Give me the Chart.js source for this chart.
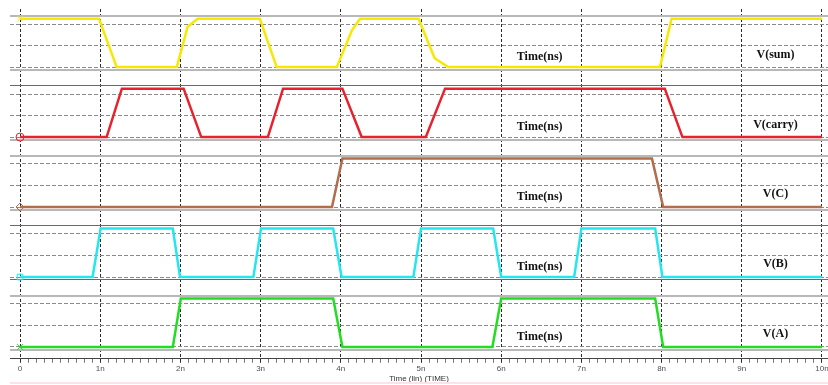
<!DOCTYPE html>
<html>
<head>
<meta charset="utf-8">
<script src="https://cdn.jsdelivr.net/npm/chart.js@4/dist/chart.umd.min.js"></script>
<style>
    body { margin: 0; background: #fff; }
    .wrap { position: relative; width: 828px; height: 385px; }
    .pinkline { position: absolute; left: 10px; top: 382px; width: 818px; height: 2px; background: #fbe3e8; }
</style>
</head>
<body>
<div class="wrap">
    <canvas id="wave" width="828" height="385"></canvas>
    <div class="pinkline"></div>
</div>
<script>
// waveform data, time in ns, level in V
const sumT   = [0, 0.985, 1.205, 1.955, 2.09, 2.215, 2.99, 3.2, 3.95, 4.14, 4.24, 4.97, 5.17, 5.34, 7.98, 8.125, 10.0];
const sumV   = [1.8, 1.8, 0, 0, 1.5, 1.8, 1.8, 0, 0, 1.38, 1.8, 1.8, 0.33, 0, 0, 1.8, 1.8];
const carryT = [0, 1.08, 1.27, 2.04, 2.26, 3.09, 3.28, 4.02, 4.26, 5.06, 5.3, 8.04, 8.26, 10.0];
const carryV = [0, 0, 1.8, 1.8, 0, 0, 1.8, 1.8, 0, 0, 1.8, 1.8, 0, 0];
const cT     = [0, 3.89, 4.02, 7.88, 8.02, 10.0];
const cV     = [0, 0, 1.8, 1.8, 0, 0];
const bT     = [0, 0.905, 1.005, 1.905, 1.995, 2.91, 3.005, 3.905, 4.01, 4.905, 5.0, 5.9, 6.0, 6.91, 7.0, 7.92, 8.01, 10.0];
const bV     = [0, 0, 1.8, 1.8, 0, 0, 1.8, 1.8, 0, 0, 1.8, 1.8, 0, 0, 1.8, 1.8, 0, 0];
const aT     = [0, 1.905, 2.005, 3.905, 4.02, 5.89, 6.0, 7.92, 8.02, 10.0];
const aV     = [0, 0, 1.8, 1.8, 0, 0, 1.8, 1.8, 0, 0];

const panelNames  = ['V(sum)', 'V(carry)', 'V(C)', 'V(B)', 'V(A)'];
const panelColors = ['#f7e800', '#e8222c', '#b26d4c', '#24e6ef', '#22dd22'];
const panelMarks  = ['crossRot', 'circle', 'rectRot', 'rect', 'crossRot'];
const xTickMajor  = [0, 1, 2, 3, 4, 5, 6, 7, 8, 9, 10];
const gridLevels  = [-0.1, 0, 0.8, 1.6, 1.9];
const edgeLevels  = [-0.1, 1.9];
// top / bottom edge line shade of every panel
const edgeShade   = [['light', 'light'], ['dark', 'light'], ['light', 'light'], ['dark', 'dark'], ['light', 'light']];

function zip(ts, vs) {
    return ts.map((t, i) => ({ x: t, y: vs[i] }));
}

function panelAxis(i) {
    const shade = level => level > 1 ? edgeShade[i][0] : edgeShade[i][1];
    return {
        type: 'linear',
        position: 'left',
        stack: 'wave',
        stackWeight: 1,
        min: -0.44,
        max: 2.16,
        afterBuildTicks: scale => { scale.ticks = gridLevels.map(v => ({ value: v })); },
        ticks: { display: false },
        border: {
            display: false,
            dash: ctx => (ctx.tick && !edgeLevels.includes(ctx.tick.value)) ? [4, 2] : []
        },
        grid: {
            drawTicks: false,
            color: ctx => {
                if (!ctx.tick || !edgeLevels.includes(ctx.tick.value)) return '#8a8a8a';
                return shade(ctx.tick.value) === 'dark' ? '#6a6a6a' : '#b8b8b8';
            },
            lineWidth: ctx => {
                if (!ctx.tick || !edgeLevels.includes(ctx.tick.value)) return 1;
                return shade(ctx.tick.value) === 'dark' ? 1 : 2;
            }
        }
    };
}

const isMajor = v => Math.abs(v - Math.round(v)) < 1e-6;

const panelText = {
    id: 'panelText',
    afterDatasetsDraw(chart) {
        const ctx = chart.ctx;
        const xs = chart.scales.x;
        ctx.save();
        ctx.fillStyle = '#111';
        ctx.font = 'bold 12px "Liberation Serif", serif';
        ctx.textAlign = 'center';
        ctx.textBaseline = 'middle';
        panelNames.forEach((name, i) => {
            const ys = chart.scales['y' + i];
            ctx.fillText('Time(ns)', xs.getPixelForValue(6.48), ys.getPixelForValue(0.37));
            ctx.fillText(name, xs.getPixelForValue(9.42), ys.getPixelForValue(0.47));
        });
        ctx.restore();
    }
};

function initChart() {
    const series = [zip(sumT, sumV), zip(carryT, carryV), zip(cT, cV), zip(bT, bV), zip(aT, aV)];
    const scales = {
        x: {
            type: 'linear',
            min: -0.125,
            max: 10.075,
            afterBuildTicks: scale => {
                const ticks = [];
                for (let k = 0; k <= 100; k++) ticks.push({ value: k / 10 });
                scale.ticks = ticks;
            },
            // keep the end labels from shrinking the plot area
            afterFit: scale => { scale.paddingLeft = 0; scale.paddingRight = 0; },
            ticks: {
                autoSkip: false,
                maxRotation: 0,
                padding: 1,
                color: '#4d4d5c',
                font: { family: '"Liberation Sans", Arial, sans-serif', size: 8 },
                callback: v => {
                    if (!isMajor(v)) return '';
                    const n = Math.round(v);
                    return xTickMajor.includes(n) ? (n === 0 ? '0' : n + 'n') : '';
                }
            },
            border: { display: true, color: '#444', width: 1, dash: ctx => (ctx.tick ? [3, 2] : []) },
            grid: {
                tickLength: 4,
                color: ctx => (ctx.tick && isMajor(ctx.tick.value)) ? '#2a2a2a' : 'rgba(0,0,0,0)',
                tickColor: ctx => (ctx.tick && isMajor(ctx.tick.value)) ? '#2a2a2a' : '#777',
                lineWidth: 1
            },
            title: {
                display: true,
                text: 'Time (lin) (TIME)',
                color: '#333',
                padding: 0,
                font: { family: '"Liberation Sans", Arial, sans-serif', size: 8 }
            }
        }
    };
    // stacked axes are laid out bottom-up, so add the lowest panel first
    for (let i = panelNames.length - 1; i >= 0; i--) {
        scales['y' + i] = panelAxis(i);
    }

    const chart = new Chart(document.getElementById('wave'), {
        type: 'line',
        data: {
            datasets: series.map((pts, i) => ({
                label: panelNames[i],
                data: pts,
                yAxisID: 'y' + i,
                borderColor: panelColors[i],
                backgroundColor: 'transparent',
                borderWidth: 2.5,
                tension: 0,
                pointStyle: panelMarks[i],
                pointRadius: ctx => ctx.dataIndex === 0 ? 4 : 0,
                pointBorderWidth: 1,
                pointBorderColor: panelColors[i],
                pointBackgroundColor: 'transparent'
            }))
        },
        options: {
            responsive: false,
            animation: false,
            // the start markers would otherwise add padding on every side
            layout: { autoPadding: false, padding: { left: 10, right: 0, top: 9, bottom: 1 } },
            plugins: { legend: { display: false }, tooltip: { enabled: false } },
            scales: scales
        },
        plugins: [panelText]
    });
}

initChart();
</script>
</body>
</html>
